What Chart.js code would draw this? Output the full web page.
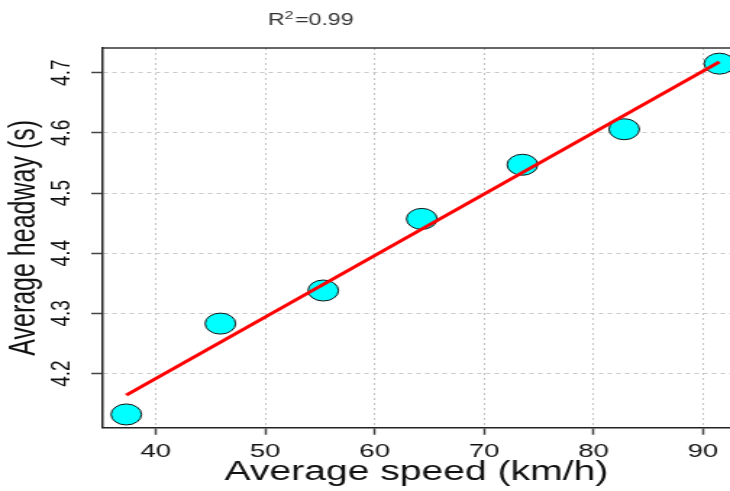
<!DOCTYPE html>
<html>
<head>
<meta charset="utf-8">
<script src="https://cdn.jsdelivr.net/npm/chart.js@4/dist/chart.umd.min.js"></script>
<style>
  html, body { margin: 0; padding: 0; background: #fff; overflow: hidden; }
  /* the reference is stretched sideways, so the canvas is drawn narrow and widened by css */
  #chart { width: 730px !important; height: 491px !important; display: block; }
</style>
</head>
<body>
<canvas id="chart" width="504" height="491" style="width:730px;height:491px"></canvas>
<script>
// data
const speed = [37.3, 45.9, 55.3, 64.3, 73.5, 82.8, 91.5];
const headway = [4.132, 4.283, 4.338, 4.457, 4.547, 4.606, 4.715];

// fitted line end points
const fitSpeed = [37.3, 91.5];
const fitHeadway = [4.164, 4.718];

const xTicks = [40, 50, 60, 70, 80, 90];
const yTicks = [4.2, 4.3, 4.4, 4.5, 4.6, 4.7];

const rSquared = '0.99';

const FONT = '"Liberation Sans", Arial, sans-serif';

// top edge of the box (R draws a full frame) and the R^2 note
const boxPlugin = {
    id: 'boxTop',
    afterDraw(chart) {
        const { ctx, chartArea } = chart;
        ctx.save();
        ctx.strokeStyle = '#333';
        ctx.lineWidth = 1.5;
        ctx.beginPath();
        ctx.moveTo(chartArea.left, chartArea.top);
        ctx.lineTo(chartArea.right, chartArea.top);
        ctx.stroke();

        ctx.fillStyle = '#333';
        ctx.textBaseline = 'alphabetic';
        ctx.textAlign = 'left';
        let x = 185;
        const y = 25;
        ctx.font = '16px ' + FONT;
        ctx.fillText('R', x, y);
        x += ctx.measureText('R').width;
        ctx.font = '11px ' + FONT;
        ctx.fillText('2', x, y - 6);
        x += ctx.measureText('2').width + 1;
        ctx.font = '16px ' + FONT;
        ctx.fillText('=' + rSquared, x, y);
        ctx.restore();
    }
};

const points = speed.map((v, i) => ({ x: v, y: headway[i] }));
const fit = fitSpeed.map((v, i) => ({ x: v, y: fitHeadway[i] }));

new Chart(document.getElementById('chart'), {
    type: 'scatter',
    data: {
        datasets: [
            {
                label: 'fit',
                data: fit,
                showLine: true,
                borderColor: '#ff0000',
                borderWidth: 3,
                pointRadius: 0,
                order: 0,
                clip: false
            },
            {
                label: 'observed',
                data: points,
                backgroundColor: '#00ffff',
                borderColor: '#111',
                borderWidth: 1,
                pointRadius: 10.5,
                pointHoverRadius: 10.5,
                order: 1,
                clip: false
            }
        ]
    },
    options: {
        responsive: false,
        animation: false,
        devicePixelRatio: 1,
        layout: { autoPadding: false, padding: { top: 48, left: 0, right: 0, bottom: 0 } },
        plugins: {
            legend: { display: false },
            tooltip: { enabled: false }
        },
        scales: {
            x: {
                type: 'linear',
                min: 35.16,
                max: 92.47,
                afterBuildTicks: s => { s.ticks = xTicks.map(v => ({ value: v })); },
                afterFit: s => {
                    s.height = 63.3;
                    s.paddingLeft = 0;
                    s.paddingRight = 0;
                },
                grid: {
                    color: '#c4c4c4',
                    lineWidth: 1,
                    tickColor: '#444',
                    tickWidth: 1.5,
                    tickLength: 7,
                    tickBorderDash: [1, 0]
                },
                border: { color: '#222', width: 1.5, dash: [2, 3] },
                ticks: {
                    color: '#111',
                    font: { family: FONT, size: 19 },
                    padding: 6,
                    maxRotation: 0
                },
                title: {
                    display: true,
                    text: 'Average speed (km/h)',
                    color: '#111',
                    font: { family: FONT, size: 27 },
                    padding: { top: 0, bottom: 2 }
                }
            },
            y: {
                type: 'linear',
                min: 4.110,
                max: 4.741,
                afterBuildTicks: s => { s.ticks = yTicks.map(v => ({ value: v })); },
                afterFit: s => {
                    s.width = 71;
                    s.paddingTop = 0;
                    s.paddingBottom = 0;
                },
                grid: {
                    color: '#c8c8c8',
                    lineWidth: 1,
                    tickColor: '#444',
                    tickWidth: 1.5,
                    tickLength: 8,
                    tickBorderDash: [1, 0]
                },
                border: { color: '#222', width: 1.5, dash: [3, 3] },
                ticks: {
                    color: '#111',
                    font: { family: FONT, size: 19 },
                    padding: 7,
                    minRotation: 90,
                    maxRotation: 90,
                    crossAlign: 'center',
                    callback: v => v.toFixed(1)
                },
                title: {
                    display: true,
                    text: 'Average headway (s)',
                    color: '#111',
                    font: { family: FONT, size: 25 },
                    padding: { top: 2, bottom: 0 }
                }
            }
        }
    },
    plugins: [boxPlugin]
});
</script>
</body>
</html>
